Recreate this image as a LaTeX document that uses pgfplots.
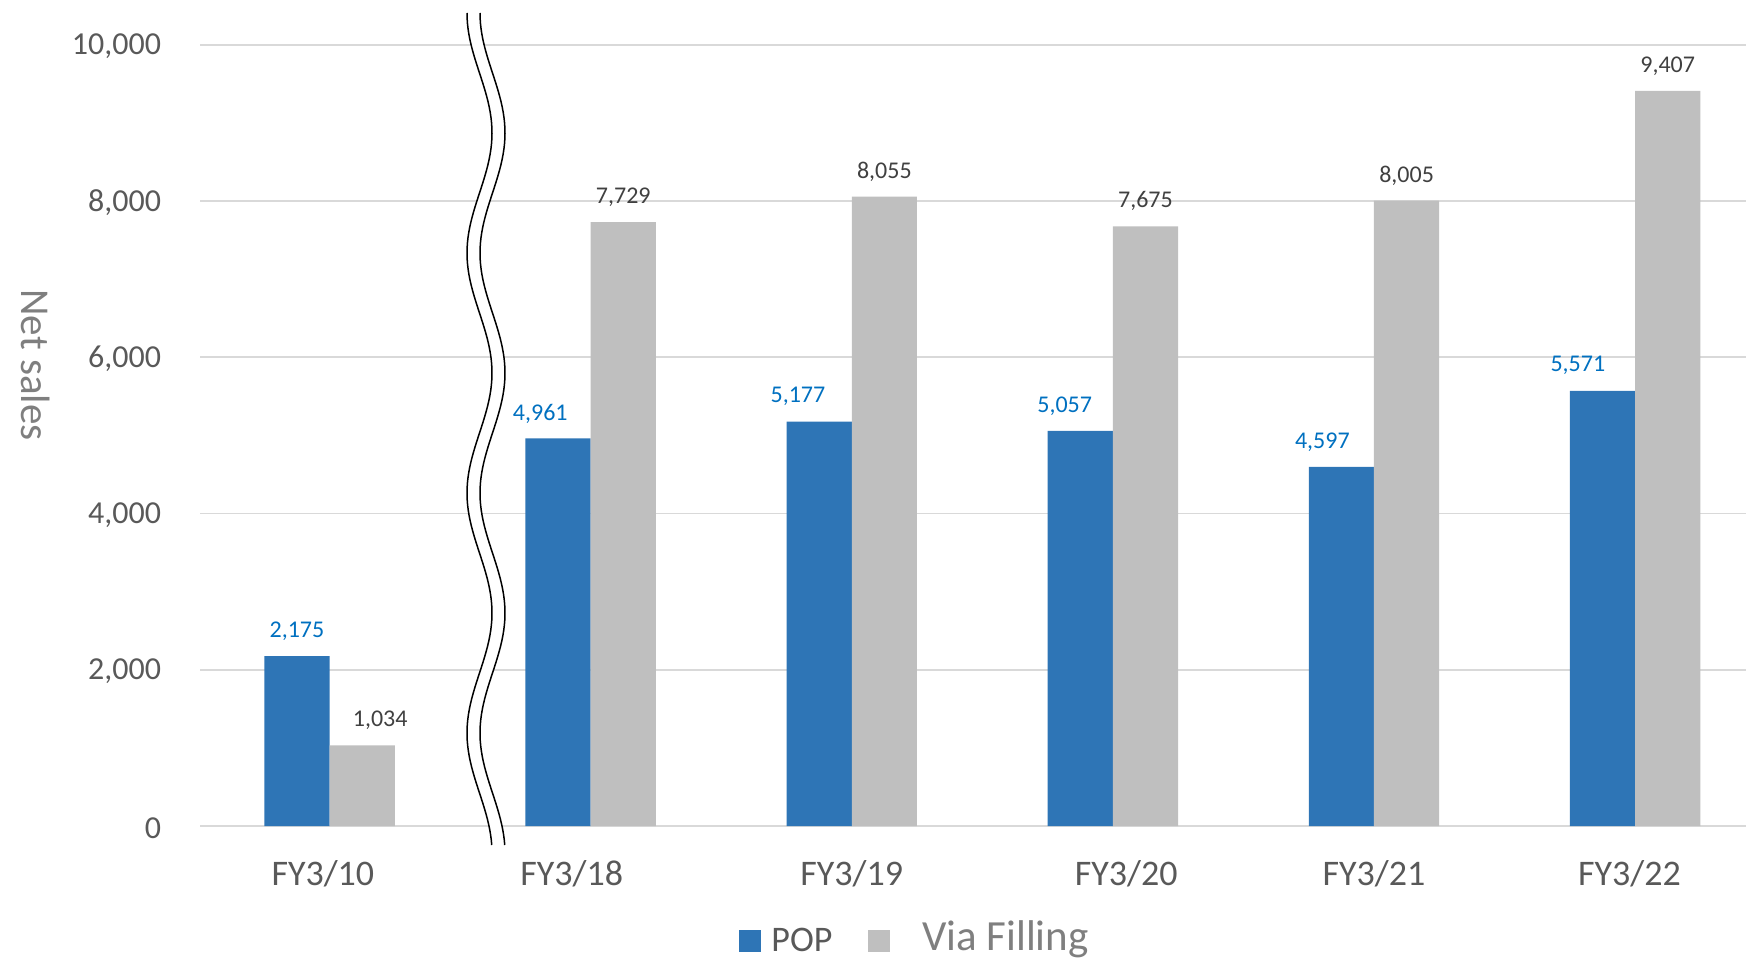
\documentclass[border=0pt]{standalone}
\usepackage{fontspec}
\setmainfont{Carlito}
\usepackage{pgfplots}
\usepackage{pgfplotstable}
\pgfplotsset{compat=1.18}

\definecolor{popblue}{HTML}{2E75B6}
\definecolor{viagray}{HTML}{BFBFBF}
\definecolor{lblblue}{HTML}{0070C0}
\definecolor{lblgray}{HTML}{404040}
\definecolor{ticktext}{HTML}{595959}
\definecolor{gridgray}{HTML}{D9D9D9}
\definecolor{titlegray}{HTML}{7F7F7F}

% x = category index, dx = label offset (pt)
\pgfplotstableread{
x y dx
0 2175 0
1 4961 -8.9
2 5177 -10.6
3 5057 -7.8
4 4597 -9.5
5 5571 -12.3
}\popdata
\pgfplotstableread{
x y dx
0 1034 9
1 7729 0
2 8055 0
3 7675 0
4 8005 0
5 9407 0
}\viadata

\begin{document}
\begin{tikzpicture}
\begin{axis}[
  ybar=0pt,
  bar width=32.6pt,
  scale only axis,
  width=773pt, height=390.8pt,
  xmin=-0.4947, xmax=5.4264,
  ymin=0, ymax=10000,
  xtick={0,...,5},
  xticklabels={{\hspace*{-6.7pt}FY3/10},{\hspace*{-19pt}\raisebox{-1.7pt}{FY3/18}},{FY3/19},{FY3/20\hspace*{-13.4pt}},{FY3/21},{\hspace*{-5.6pt}\raisebox{-2.8pt}{FY3/22}}},
  ytick={0,2000,...,10000},
  scaled y ticks=false,
  ymajorgrids,
  grid style={gridgray, line width=0.9pt},
  axis line style={draw=none},
  major tick length=0pt,
  /pgf/number format/1000 sep={,},
  /pgf/number format/assume math mode=true,
  yticklabel style={font=\fontsize{16}{19}\selectfont, text=ticktext, inner sep=0pt, anchor=east, xshift=-19.5pt, yshift=-0.8pt},
  xticklabel style={font=\fontsize{18}{21}\selectfont, text=ticktext, inner sep=0pt, anchor=center, yshift=-23.9pt},
  ylabel={Net sales},
  ylabel style={font=\fontsize{20.5}{24}\selectfont, text=titlegray, at={(axis description cs:-0.1067,0.59)}, anchor=center, rotate=180},
  nodes near coords,
  visualization depends on={\thisrow{dx} \as \labeldx},
  nodes near coords style={font=\fontsize{12}{14}\selectfont, anchor=center, yshift=12.5pt, xshift=\labeldx pt},
  legend image code/.code={\fill[#1] (0pt,-5.5pt) rectangle (11pt,5.5pt);},
  legend style={at={(0.348,-0.147)}, anchor=west, draw=none, fill=none, inner sep=0pt,
    nodes={inner ysep=0pt},
    font=\fontsize{18}{21}\selectfont, text=ticktext, legend columns=2,
    /tikz/every even column/.append style={column sep=15.8pt}},
]
\addplot[fill=popblue, draw=none, every node near coord/.append style={text=lblblue}] table[x=x, y=y] {\popdata};
\addlegendentry{\hspace*{3.3pt}POP}
\addplot[fill=viagray, draw=none, every node near coord/.append style={text=lblgray}] table[x=x, y=y] {\viadata};
\addlegendentry{\hspace*{14pt}\raisebox{4.5pt}{\fontsize{21.5}{25}\selectfont\textcolor{titlegray}{Via Filling}}}
\end{axis}

% axis break mark between FY3/10 and FY3/18
\begin{scope}[x=1pt, y=1pt]
  \fill[white] plot[domain=-9.4:406.6, samples=160, variable=\y] ({139.55-6.25*cos(3*(406.6-\y))}, \y)
    -- plot[domain=406.6:-9.4, samples=160, variable=\y] ({146.05-6.25*cos(3*(406.6-\y))}, \y) -- cycle;
  \draw[line width=0.75pt] plot[domain=-9.4:406.6, samples=160, variable=\y] ({139.55-6.25*cos(3*(406.6-\y))}, \y);
  \draw[line width=0.75pt] plot[domain=-9.4:406.6, samples=160, variable=\y] ({146.05-6.25*cos(3*(406.6-\y))}, \y);
\end{scope}

\pgfresetboundingbox
\path (-100.2pt,-66.9pt) rectangle (772.8pt,413.1pt);
\end{tikzpicture}
\end{document}
